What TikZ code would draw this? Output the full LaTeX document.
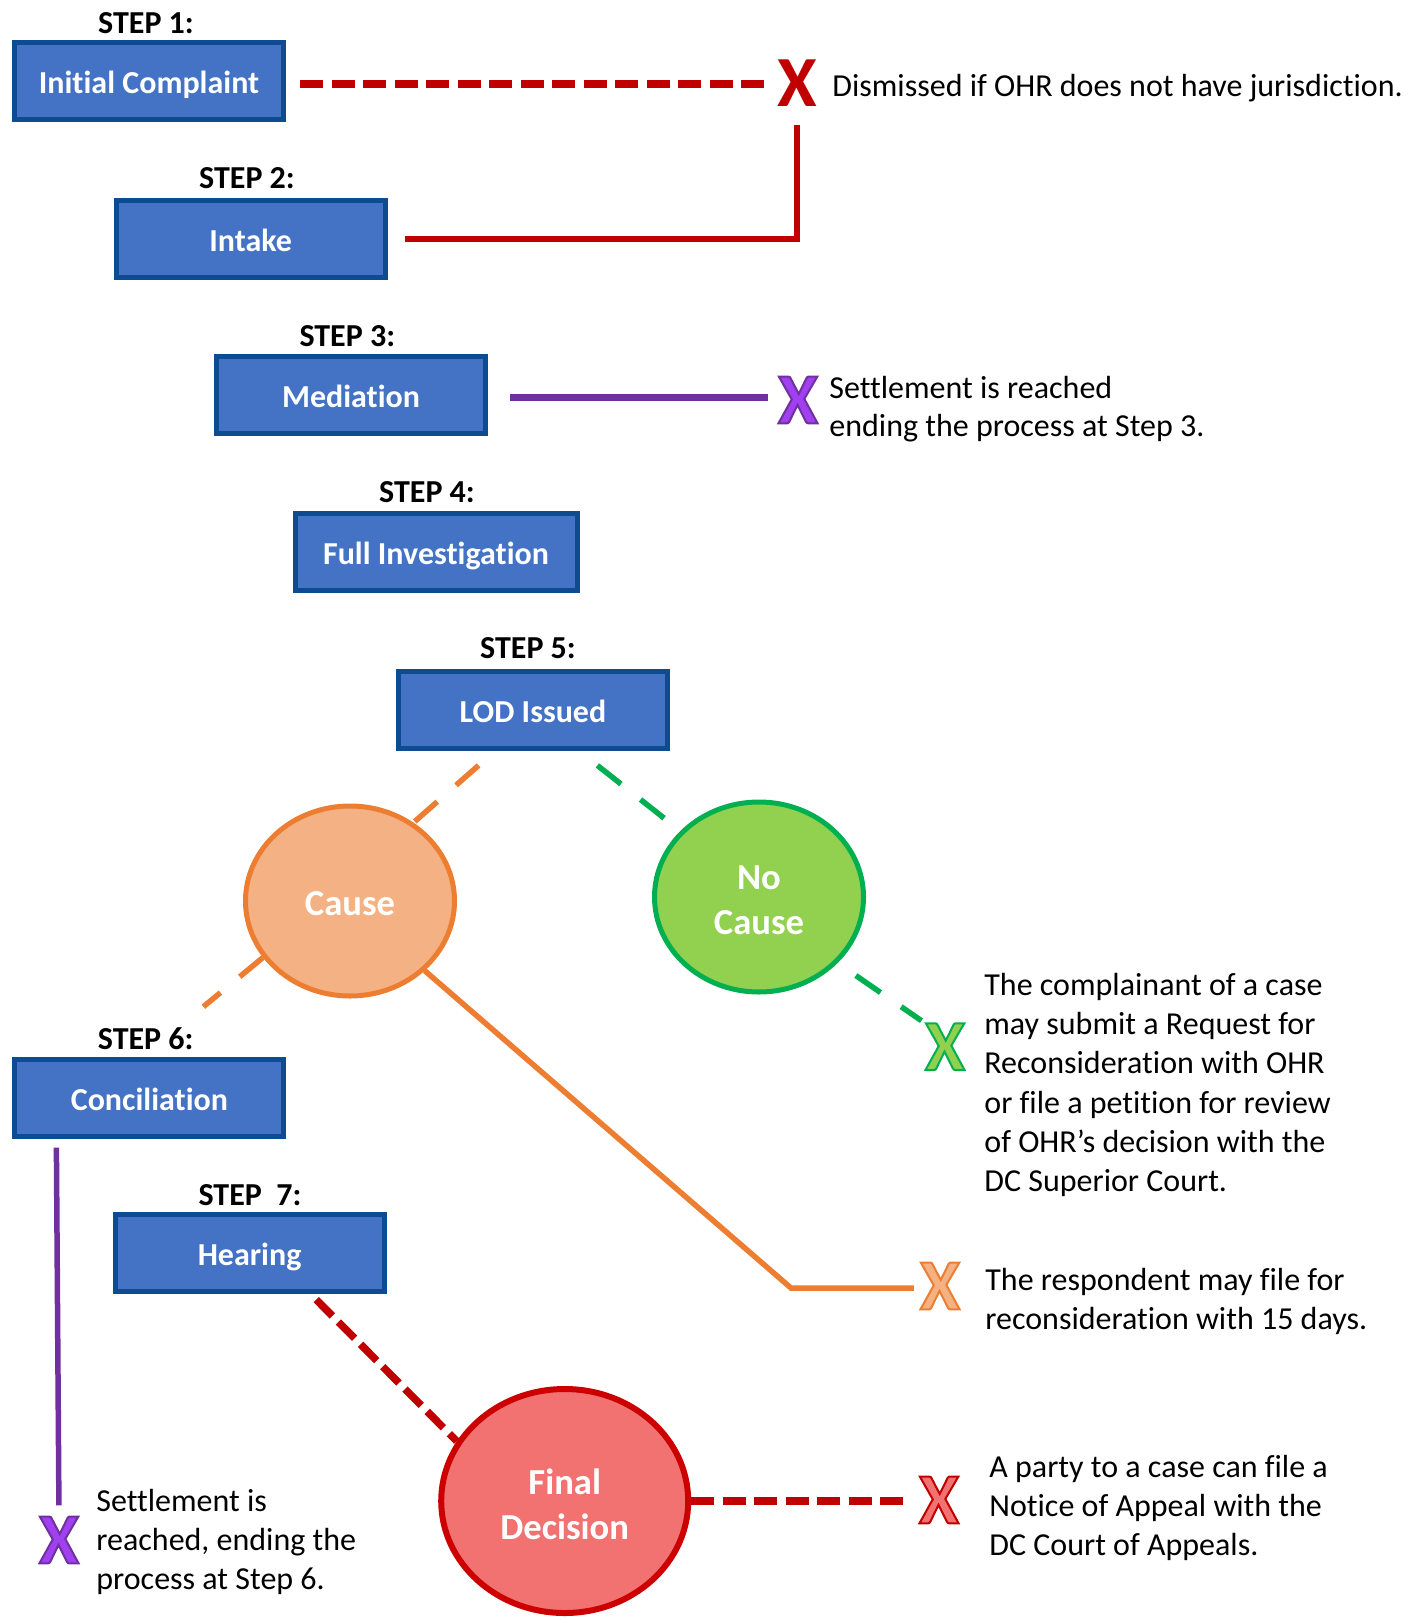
\documentclass[tikz,border=0pt]{standalone}
\usepackage{fontspec}
\setmainfont{Carlito}[Ligatures=NoCommon]
\newfontface\xoutfont{Carlito Bold}[RawFeature={embolden=2.8}]
\usetikzlibrary{calc,shapes.geometric}
\definecolor{boxfill}{HTML}{4472C4}
\definecolor{boxline}{HTML}{0E4C92}
\definecolor{darkred}{HTML}{C00000}
\definecolor{purp}{HTML}{7030A0}
\definecolor{purpx}{HTML}{A040F0}
\definecolor{orng}{HTML}{ED7D31}
\definecolor{orngfill}{HTML}{F4B183}
\definecolor{grn}{HTML}{00B050}
\definecolor{grnfill}{HTML}{92D050}
\definecolor{finfill}{HTML}{F27272}
\definecolor{finline}{HTML}{CC0000}
\newcommand{\outlineX}[1]{{\xoutfont\special{pdf:literal direct #1 RG}X}}
\begin{document}
\begin{tikzpicture}[x=0.5pt,y=-0.5pt,
  stepbox/.style={draw=boxline, fill=boxfill, line width=2.5pt, minimum width=134.5pt, minimum height=38.5pt, inner sep=0pt, text height=12.5pt, text depth=0pt, text=white, font=\fontsize{16}{19.5}\selectfont\bfseries},
  steplabel/.style={anchor=base, inner sep=0pt, font=\fontsize{16}{19.5}\selectfont\bfseries},
  outcome/.style={ellipse, line width=2.5pt, inner sep=0pt},
  outcometext/.style={inner sep=0pt, text=white, align=center, font=\fontsize{18.3}{22.3}\selectfont\bfseries},
  note/.style={anchor=base west, inner sep=0pt, font=\fontsize{16}{19.5}\selectfont},
  xmark/.style={inner sep=0pt, font=\fontsize{36}{40}\selectfont\bfseries},
  reddash/.style={draw=darkred, line width=3.75pt, dash pattern=on 11.5pt off 4.25pt},
  softdash/.style={line width=2.75pt, dash pattern=on 15pt off 12.5pt},
]
\useasboundingbox (0,0) rectangle (1416,1621);

% step boxes
\node[stepbox] (b1) at (149,81) {Initial Complaint};
\node[stepbox] (b2) at (250.6,238.8) {Intake};
\node[stepbox] (b3) at (351,394.8) {Mediation};
\node[stepbox, minimum width=141pt] (b4) at (436,552) {Full Investigation};
\node[stepbox] (b5) at (533,710) {LOD Issued};
\node[stepbox] (b6) at (149.4,1097.7) {Conciliation};
\node[stepbox] (b7) at (249.6,1252.8) {Hearing};

% step labels
\node[steplabel] (s1) at (146,33.5) {STEP 1:};
\node[steplabel] (s2) at (247,189) {STEP 2:};
\node[steplabel] (s3) at (347.3,346.2) {STEP 3:};
\node[steplabel] (s4) at (427,502.2) {STEP 4:};
\node[steplabel] (s5) at (528,658.2) {STEP 5:};
\node[steplabel] (s6) at (145.7,1049) {STEP 6:};
\node[steplabel] (s7) at (250,1205) {STEP\ \ 7:};

% outcome ellipses
\node[outcome, draw=orng, fill=orngfill, minimum width=104.5pt, minimum height=95pt] (cause) at (350,901) {};
\node[outcome, draw=grn, fill=grnfill, minimum width=104.5pt, minimum height=95pt] (nocause) at (759,897) {};
\node[outcome, draw=finline, fill=finfill, line width=3pt, minimum width=123.5pt, minimum height=112pt] (final) at (564.7,1501) {};
\node[outcometext] (causet) at ([yshift=-1.55pt]cause.center) {Cause};
\node[outcometext] (nocauset) at ([yshift=-1.55pt]nocause.center) {No\\Cause};
\node[outcometext] (finalt) at ([yshift=-1.55pt]final.center) {Final\\Decision};

% X marks
\node[xmark, text=darkred] (x1) at (797,82.7) {X};
\node[xmark, text=purpx] (x2) at (798,400) {\outlineX{0.439 0.188 0.627}};
\node[xmark, text=grnfill] (x3) at (945,1046.7) {\outlineX{0 0.69 0.314}};
\node[xmark, text=orngfill] (x4) at (940,1286) {\outlineX{0.929 0.49 0.192}};
\node[xmark, text=finfill] (x5) at (939,1500) {\outlineX{0.753 0 0}};
\node[xmark, text=purpx] (x6) at (59,1540) {\outlineX{0.439 0.188 0.627}};

% notes
\node[note] (n1) at (832,97) {Dismissed if OHR does not have jurisdiction.};
\node[note] (n2a) at (829,398) {Settlement is reached};
\node[note] (n2b) at (829,436) {ending the process at Step 3.};
\node[note] (n3a) at (984,995) {The complainant of a case};
\node[note] (n3b) at (984,1034) {may submit a Request for};
\node[note] (n3c) at (984,1073.5) {Reconsideration with OHR};
\node[note] (n3d) at (984,1113) {or file a petition for review};
\node[note] (n3e) at (984,1152) {of OHR’s decision with the};
\node[note] (n3f) at (984,1191) {DC Superior Court.};
\node[note] (n4a) at (985,1290) {The respondent may file for};
\node[note] (n4b) at (985,1329) {reconsideration with 15 days.};
\node[note] (n5a) at (989,1477) {A party to a case can file a};
\node[note] (n5b) at (989,1516) {Notice of Appeal with the};
\node[note] (n5c) at (989,1555) {DC Court of Appeals.};
\node[note] (n6a) at (96,1511) {Settlement is};
\node[note] (n6b) at (96,1550) {reached, ending the};
\node[note] (n6c) at (96,1589) {process at Step 6.};

% connectors
\draw[reddash, shorten <=7pt, shorten >=3.3pt] ([yshift=-1.4pt]b1.east) -- ([yshift=-1.4pt]b1.east -| x1.west);
\draw[draw=darkred, line width=3pt, shorten <=8.5pt, shorten >=9.5pt] (b2.east) -| (x1.south);
\draw[draw=purp, line width=3.5pt, shorten <=11pt, shorten >=5pt] ([yshift=-1.3pt]b3.east) -- ([yshift=-1.3pt]b3.east -| x2.west);
\draw[softdash, draw=orng] ([xshift=-27.2pt,yshift=-7.2pt]b5.south) -- (cause.51);
\draw[softdash, draw=grn, shorten >=9pt] ([xshift=32.2pt,yshift=-7.2pt]b5.south) -- (nocause.140);
\draw[softdash, draw=orng] (cause.213) -- ([xshift=27pt,yshift=25pt]b6.north);
\draw[softdash, draw=grn, shorten <=11pt, shorten >=2pt] (nocause.-40) -- (x3.north west);
\coordinate (bend) at (791,1288);
\draw[draw=orng, line width=2.75pt, shorten >=3pt] (cause.-43) -- (bend) -- (bend -| x4.west);
\draw[reddash] ([xshift=33.3pt,yshift=-2.9pt]b7.south) -- (final.151);
\draw[reddash, shorten >=8pt] (final.east) -- (final.east -| x5.west);
\draw[draw=purp, line width=2.75pt, shorten >=5.5pt] ([xshift=22pt,yshift=-4.5pt]b6.south west) -- (x6.north);
\end{tikzpicture}
\end{document}
